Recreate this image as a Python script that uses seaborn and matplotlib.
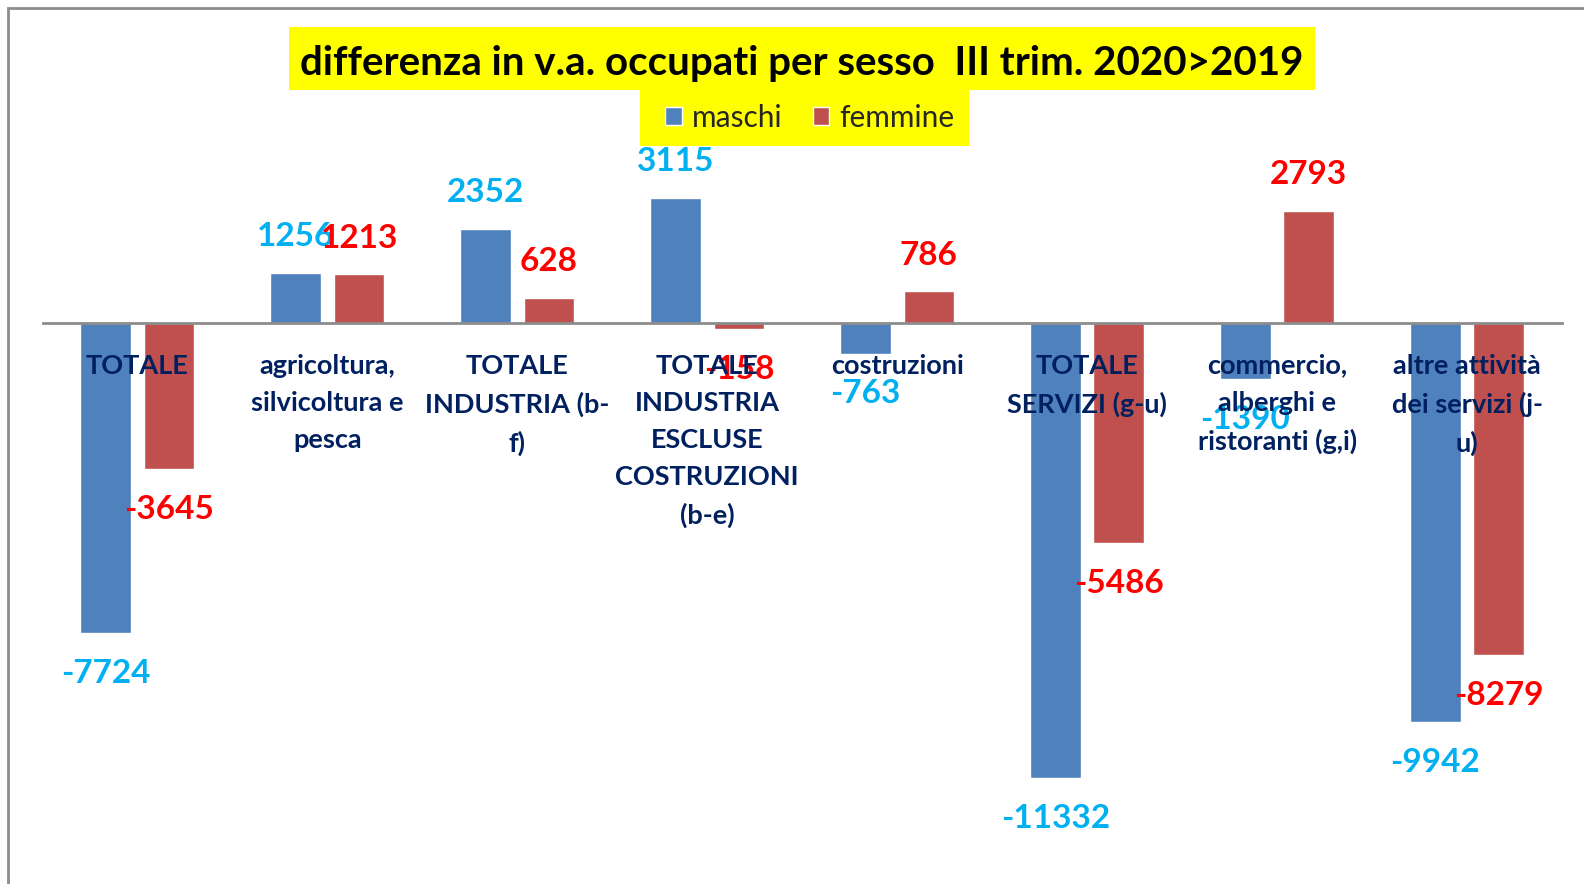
import matplotlib
matplotlib.use("Agg")
import matplotlib.pyplot as plt
import seaborn as sns
import pandas as pd
from matplotlib.patches import Rectangle

categories = ["TOTALE", "agricoltura,\nsilvicoltura e\npesca", "TOTALE\nINDUSTRIA (b-\nf)",
              "TOTALE\nINDUSTRIA\nESCLUSE\nCOSTRUZIONI\n(b-e)", "costruzioni",
              "TOTALE\nSERVIZI (g-u)", "commercio,\nalberghi e\nristoranti (g,i)",
              "altre attività\ndei servizi (j-\nu)"]
maschi = [-7724, 1256, 2352, 3115, -763, -11332, -1390, -9942]
femmine = [-3645, 1213, 628, -158, 786, -5486, 2793, -8279]
series = ["maschi", "femmine"]
title = "differenza in v.a. occupati per sesso  III trim. 2020>2019"

bar_colors = ["#4F81BD", "#C0504D"]
label_colors = ["#00B0F0", "#FF0000"]

sns.set_theme(style="white")
plt.rcParams['font.family'] = ['Lato', 'DejaVu Sans']

df = pd.DataFrame({
    "cat": categories * 2,
    "val": maschi + femmine,
    "sesso": [series[0]] * len(categories) + [series[1]] * len(categories),
})

W, H = 1584, 884
fig = plt.figure(figsize=(W / 100, H / 100), dpi=100)

# title box and legend box (figure background decorations)
fig.patches.append(Rectangle((289 / W, 1 - 90 / H), (1315 - 289) / W, 63 / H,
                             transform=fig.transFigure, facecolor="#FFFF00",
                             edgecolor="none", zorder=-2))
fig.patches.append(Rectangle((640 / W, 1 - 146 / H), (969 - 640) / W, 56 / H,
                             transform=fig.transFigure, facecolor="#FFFF00",
                             edgecolor="none", zorder=-2))

ax = fig.add_axes([42.5 / W, 24 / H, (1562 - 42.5) / W, 730 / H])
ax.patch.set_visible(False)

sns.barplot(data=df, x="cat", y="val", hue="sesso", palette=bar_colors,
            width=0.667, gap=0.2, saturation=1, ax=ax, legend=True, errorbar=None)

ax.set_ylim(-13375, 4807)
ax.set_xlim(-0.5, 7.5)
ax.set_xlabel("")
ax.set_ylabel("")
ax.set_yticks([])
for s in ["top", "left", "right"]:
    ax.spines[s].set_visible(False)
ax.spines["bottom"].set_position(("data", 0))
ax.spines["bottom"].set_color("#8C8C8C")
ax.spines["bottom"].set_linewidth(2)
ax.set_xticks(range(len(categories)))
ax.set_xticklabels([""] * len(categories))
ax.tick_params(axis="x", length=0)

# category labels just below the zero line
for i, lab in enumerate(categories):
    ax.annotate(lab, xy=(i, 0), xytext=(0, -22), textcoords="offset points",
                ha="center", va="top", fontsize=19.5, fontweight="bold",
                color="#002060", linespacing=1.66, zorder=4)

vals = [maschi, femmine]
for ci, cont in enumerate(ax.containers):
    for bar, v in zip(cont, vals[ci]):
        xc = bar.get_x() + bar.get_width() / 2
        off = 26 if v >= 0 else -29
        ax.annotate(f"{v}", xy=(xc, v), xytext=(0, off), textcoords="offset points",
                    ha="center", va="center", fontsize=24, fontweight="bold",
                    color=label_colors[ci], zorder=3)

leg = ax.legend(loc="center", bbox_to_anchor=(810 / W, 1 - 118 / H),
                bbox_transform=fig.transFigure, ncol=2, frameon=False,
                fontsize=21.5, handlelength=0.55, handleheight=0.55, handletextpad=0.35,
                columnspacing=1.0, borderpad=0.3)
leg.set_zorder(6)

fig.text(802 / W, 1 - 63 / H, title, ha="center", va="center", fontsize=29,
         fontweight="bold", color="black")

# chart-area border (left and top visible)
fig.patches.append(Rectangle((8 / W, -0.1), 1.2, 1 - 8 / H + 0.1,
                             transform=fig.transFigure, facecolor="none",
                             edgecolor="#8C8C8C", linewidth=2, zorder=10))

fig.savefig("out.png", dpi=100, facecolor="white")
